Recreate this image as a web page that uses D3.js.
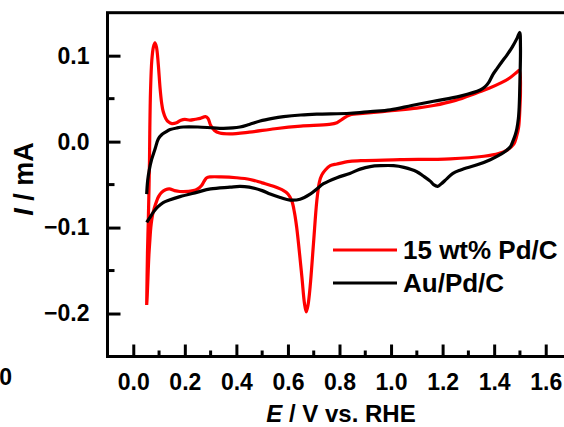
<!DOCTYPE html>
<html>
<head>
<meta charset="utf-8">
<script src="https://cdn.jsdelivr.net/npm/d3@7"></script>
<style>
  body { margin: 0; background: #fff; }
  text { font-family: "Liberation Sans", Arial, sans-serif; font-weight: bold; fill: #000; }
</style>
</head>
<body>
<div id="chart"></div>
<script>
// series names
var seriesNames = ["15 wt% Pd/C", "Au/Pd/C"];
var seriesColors = ["#ff0000", "#000000"];

// 15 wt% Pd/C  [E (V), I (mA)] in scan order
var pdC = [
  [0.052,-0.190],[0.055,-0.130],[0.058,-0.095],[0.061,-0.055],[0.063,-0.020],[0.064,0.010],[0.067,0.060],
  [0.072,0.095],[0.078,0.110],[0.084,0.115],[0.090,0.110],[0.097,0.090],[0.104,0.062],[0.110,0.045],
  [0.116,0.035],[0.126,0.027],[0.136,0.023],[0.150,0.021],[0.168,0.022],[0.185,0.025],[0.200,0.026],
  [0.220,0.025],[0.240,0.026],[0.260,0.027],[0.280,0.029],[0.290,0.027],[0.300,0.019],[0.315,0.013],
  [0.335,0.010],[0.375,0.009],[0.450,0.011],[0.550,0.015],[0.650,0.018],[0.760,0.020],[0.790,0.022],
  [0.810,0.026],[0.840,0.031],[0.900,0.033],[1.000,0.036],[1.100,0.039],[1.165,0.042],[1.250,0.048],
  [1.334,0.057],[1.380,0.062],[1.424,0.068],[1.460,0.074],[1.489,0.081],[1.498,0.083],
  [1.502,0.060],[1.500,0.040],[1.495,0.017],[1.486,0.005],[1.476,-0.003],[1.450,-0.010],[1.417,-0.014],
  [1.360,-0.017],[1.230,-0.020],[1.036,-0.021],[0.900,-0.022],[0.840,-0.023],[0.790,-0.026],[0.764,-0.028],
  [0.745,-0.033],[0.731,-0.039],[0.722,-0.047],[0.712,-0.069],[0.699,-0.119],[0.686,-0.169],[0.678,-0.190],
  [0.671,-0.198],[0.664,-0.188],[0.654,-0.157],[0.634,-0.100],[0.625,-0.082],[0.615,-0.069],[0.600,-0.061],
  [0.583,-0.057],[0.544,-0.052],[0.500,-0.048],[0.453,-0.044],[0.400,-0.042],[0.340,-0.041],[0.300,-0.041],
  [0.285,-0.042],[0.275,-0.046],[0.265,-0.051],[0.250,-0.055],[0.233,-0.057],[0.181,-0.058],[0.160,-0.057],
  [0.140,-0.055],[0.125,-0.056],[0.110,-0.059],[0.098,-0.064],[0.091,-0.069],[0.082,-0.077],[0.075,-0.085],
  [0.068,-0.100],[0.065,-0.112],[0.061,-0.130],[0.058,-0.150],[0.054,-0.180],[0.052,-0.190]
];

// Au/Pd/C
var auPdC = [
  [0.052,-0.061],[0.056,-0.045],[0.062,-0.033],[0.071,-0.021],[0.085,-0.008],[0.097,0.003],[0.110,0.008],
  [0.125,0.011],[0.143,0.014],[0.170,0.016],[0.194,0.017],[0.250,0.017],[0.310,0.016],[0.350,0.0155],
  [0.414,0.017],[0.450,0.020],[0.492,0.024],[0.540,0.027],[0.583,0.029],[0.650,0.031],[0.712,0.032],
  [0.841,0.033],[0.920,0.035],[0.997,0.037],[1.080,0.042],[1.165,0.047],[1.269,0.053],[1.346,0.060],
  [1.365,0.064],[1.379,0.069],[1.395,0.078],[1.411,0.085],[1.430,0.093],[1.450,0.101],[1.470,0.110],
  [1.490,0.121],[1.499,0.127],
  [1.502,0.110],[1.500,0.070],[1.497,0.040],[1.494,0.027],[1.488,0.015],[1.482,0.008],[1.472,0.000],
  [1.463,-0.006],[1.445,-0.011],[1.430,-0.014],[1.385,-0.021],[1.334,-0.027],[1.270,-0.033],[1.240,-0.037],
  [1.217,-0.043],[1.195,-0.049],[1.181,-0.052],[1.165,-0.050],[1.152,-0.046],[1.125,-0.040],[1.100,-0.035],
  [1.050,-0.030],[1.010,-0.028],[0.960,-0.028],[0.919,-0.029],[0.880,-0.032],[0.840,-0.037],[0.790,-0.042],
  [0.738,-0.049],[0.712,-0.055],[0.686,-0.061],[0.647,-0.067],[0.608,-0.068],[0.570,-0.065],[0.531,-0.061],
  [0.500,-0.057],[0.450,-0.053],[0.414,-0.052],[0.375,-0.053],[0.300,-0.055],[0.246,-0.059],[0.181,-0.064],
  [0.140,-0.068],[0.116,-0.071],[0.095,-0.076],[0.078,-0.082],[0.065,-0.088],[0.052,-0.094]
];

// tick values
var xTicks = [0.0, 0.2, 0.4, 0.6, 0.8, 1.0, 1.2, 1.4, 1.6];
var xMinor = [0.1, 0.3, 0.5, 0.7, 0.9, 1.1, 1.3, 1.5];
var yTicks = [-0.2, -0.1, 0.0, 0.1];
var yMinor = [-0.15, -0.05, 0.05];

var width = 564, height = 427;
var margin = {left: 107.5, right: 571.5, top: 12.7, bottom: 356.5};

var svg = d3.select("#chart").append("svg")
    .attr("width", width)
    .attr("height", height);

svg.append("rect").attr("width", width).attr("height", height).attr("fill", "#fff");

var x = d3.scaleLinear().domain([-0.1, 1.7]).range([margin.left, margin.right]);
var y = d3.scaleLinear().domain([-0.25, 0.15]).range([margin.bottom, margin.top]);

// frame (right side falls outside the picture)
svg.append("rect")
    .attr("x", margin.left).attr("y", margin.top)
    .attr("width", margin.right - margin.left).attr("height", margin.bottom - margin.top)
    .attr("fill", "none").attr("stroke", "#000").attr("stroke-width", 3);

// X axis
var xAxis = svg.append("g")
    .attr("transform", "translate(0," + margin.bottom + ")")
    .call(d3.axisBottom(x).tickValues(xTicks).tickSize(-12).tickPadding(17)
      .tickFormat(d3.format(".1f")));
xAxis.append("g").attr("class", "minor").selectAll("line").data(xMinor).enter().append("line")
    .attr("x1", function (d) { return x(d); }).attr("x2", function (d) { return x(d); })
    .attr("y1", 0).attr("y2", -6);

// Y axis
var yAxis = svg.append("g")
    .attr("transform", "translate(" + margin.left + ",0)")
    .call(d3.axisLeft(y).tickValues(yTicks).tickSize(-13).tickPadding(18)
      .tickFormat(d3.format(".1f")));
yAxis.append("g").attr("class", "minor").selectAll("line").data(yMinor).enter().append("line")
    .attr("y1", function (d) { return y(d); }).attr("y2", function (d) { return y(d); })
    .attr("x1", 0).attr("x2", 7);

svg.selectAll(".domain").remove();
svg.selectAll(".tick line, .minor line").attr("stroke", "#000").attr("stroke-width", 3);
svg.selectAll(".tick text").style("font-size", "23px").attr("fill", "#000");

// curves
var line = d3.line()
    .x(function (d) { return x(d[0]); })
    .y(function (d) { return y(d[1]); })
    .curve(d3.curveCatmullRom.alpha(0.5));

[pdC, auPdC].forEach(function (data, i) {
  svg.append("path")
      .datum(data)
      .attr("d", line)
      .attr("fill", "none")
      .attr("stroke", seriesColors[i])
      .attr("stroke-width", 3.2)
      .attr("stroke-linejoin", "round");
});

// legend
seriesNames.forEach(function (name, i) {
  var ly = 250 + i * 33;
  svg.append("line")
      .attr("x1", 333).attr("x2", 397).attr("y1", ly).attr("y2", ly)
      .attr("stroke", seriesColors[i]).attr("stroke-width", 3);
  svg.append("text")
      .attr("x", 403).attr("y", ly).attr("dy", "0.35em")
      .style("font-size", "26px")
      .text(name);
});

// axis titles
var xt = svg.append("text")
    .attr("x", 341).attr("y", 422)
    .attr("text-anchor", "middle")
    .style("font-size", "24px");
xt.append("tspan").style("font-style", "italic").text("E");
xt.append("tspan").text(" / V vs. RHE");

var yt = svg.append("text")
    .attr("transform", "translate(33,179) rotate(-90)")
    .attr("text-anchor", "middle")
    .style("font-size", "27px");
yt.append("tspan").style("font-style", "italic").text("I");
yt.append("tspan").text(" / mA");

// stray label cut at the left edge
svg.append("text")
    .attr("x", 12).attr("y", 385)
    .attr("text-anchor", "end")
    .style("font-size", "23px")
    .text("0");
</script>
</body>
</html>
